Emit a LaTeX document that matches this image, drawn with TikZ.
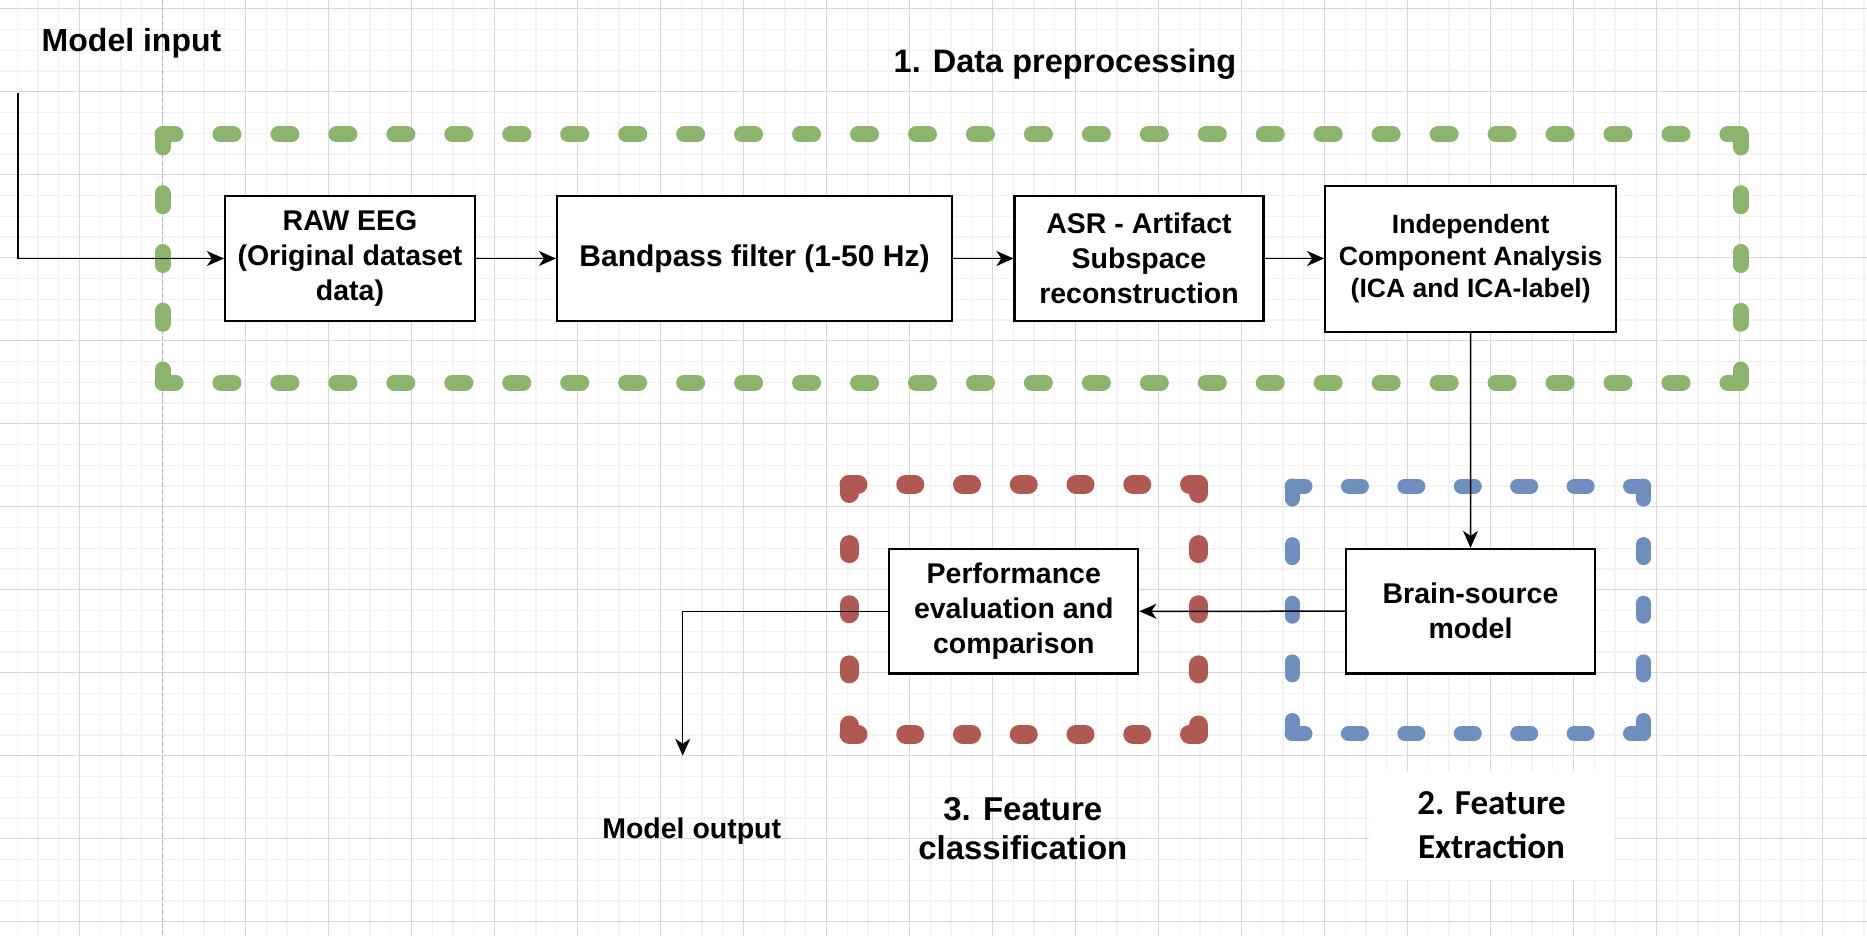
\documentclass[tikz,border=0pt]{standalone}
\usepackage{fontspec}
\setmainfont{Liberation Sans}
\newfontfamily\calib{Carlito}
\usetikzlibrary{arrows.meta}
\definecolor{grn}{RGB}{141,180,109}
\definecolor{rd}{RGB}{176,89,83}
\definecolor{bl}{RGB}{110,142,190}
\definecolor{gmaj}{RGB}{216,216,216}
\definecolor{gmin}{RGB}{243,243,243}
\tikzset{
  box/.style={draw=black, line width=2.2pt, fill=white, inner sep=0pt, align=center, font=\bfseries\fontsize{28.5pt}{35pt}\selectfont},
  conn/.style={draw=black, line width=1.5pt, -{Stealth[length=17pt,width=15pt,inset=5pt]}},
  plainconn/.style={draw=black, line width=1.5pt},
  gside/.style={draw=grn, line width=16pt, line cap=round, dash pattern=on 13pt off #1},
  rside/.style={draw=rd, line width=19pt, line cap=round, dash pattern=on 9pt off #1},
  bside/.style={draw=bl, line width=15pt, line cap=round, dash pattern=on 13pt off #1},
  title/.style={font=\bfseries\fontsize{32.5pt}{39pt}\selectfont, inner sep=0pt, align=center}
}
\begin{document}
\begin{tikzpicture}[x=1pt,y=-1pt]
\useasboundingbox (0,0) rectangle (1867,936);
\fill[white] (0,0) rectangle (1867,936);
% grid
\foreach \i in {-4,...,86} {\draw[gmin, line width=1.3pt] ({79.5+20.75*\i},0) -- ({79.5+20.75*\i},936);}
\foreach \i in {-1,...,45} {\draw[gmin, line width=1.3pt] (0,{8.7+20.75*\i}) -- (1867,{8.7+20.75*\i});}
\foreach \i in {-1,...,22} {\draw[gmaj, line width=1.3pt] ({79.5+83*\i},0) -- ({79.5+83*\i},936);}
\foreach \i in {0,...,11} {\draw[gmaj, line width=1.3pt] (0,{8.7+83*\i}) -- (1867,{8.7+83*\i});}
\draw[black!30, line width=1.3pt, dash pattern=on 4pt off 3pt] (162.5,0) -- (162.5,936);

% green container (1. Data preprocessing)
\draw[gside=44.96pt] (162.5,134.5) -- (1740.5,134.5);
\draw[gside=44.96pt] (162.5,382.5) -- (1740.5,382.5);
\draw[gside=45.75pt] (162.5,134.5) -- (162.5,382.5);
\draw[gside=45.75pt] (1740.5,134.5) -- (1740.5,382.5);

% red container (3. Feature classification)
\draw[rside=47.75pt] (849,484.5) -- (1198.5,484.5);
\draw[rside=47.75pt] (849,734) -- (1198.5,734);
\draw[rside=51.125pt] (849,484.5) -- (849,734);
\draw[rside=51.125pt] (1198.5,484.5) -- (1198.5,734);

% blue container (2. Feature Extraction)
\draw[bside=43.42pt] (1292,486) -- (1643.5,486);
\draw[bside=43.42pt] (1292,733.5) -- (1643.5,733.5);
\draw[bside=45.625pt] (1292,486) -- (1292,733.5);
\draw[bside=45.625pt] (1643.5,486) -- (1643.5,733.5);

% boxes
\node[box, minimum width=250pt, minimum height=125pt] (raw) at (350,258.5) {RAW EEG\\(Original dataset\\data)};
\node[box, minimum width=395pt, minimum height=125pt, font=\bfseries\fontsize{30pt}{36pt}\selectfont] (band) at (754.5,258.5) {Bandpass filter (1-50 Hz)};
\node[box, minimum width=249pt, minimum height=125pt] (asr) at (1139,258.5) {ASR - Artifact\\Subspace\\reconstruction};
\node[box, minimum width=291pt, minimum height=146pt, font=\bfseries\fontsize{26.5pt}{32pt}\selectfont] (ica) at (1470.7,258.7) {Independent\\Component Analysis\\(ICA and ICA-label)};
\node[box, minimum width=249pt, minimum height=124.5pt] (perf) at (1013.8,611.3) {Performance\\evaluation and\\comparison};
\node[box, minimum width=249pt, minimum height=124.5pt] (brain) at (1470.5,611.2) {Brain-source\\model};

% labels
\node[title, anchor=base, font=\bfseries\fontsize{32pt}{38pt}\selectfont] (inlbl) at (131.5,51.7) {Model input};
\node[title, anchor=base] (t1) at (1065,72.7) {1. Data preprocessing};
\node[title, anchor=base, font=\bfseries\fontsize{28.5pt}{34pt}\selectfont] (outlbl) at (691.7,838) {Model output};
\node[title, font=\bfseries\fontsize{33pt}{39pt}\selectfont] (t3) at (1022.8,828.4) {3. Feature\\classification};
\node[fill=white, inner sep=0pt, minimum width=245pt, minimum height=109pt, align=center, font=\calib\bfseries\fontsize{35pt}{44pt}\selectfont] (t2) at (1491.5,825) {2. Feature\\Extraction};

% connectors
\coordinate (instart) at (17.9,92.7);
\coordinate (outend) at (682.7,755.7);
\draw[conn] (instart) |- (raw.west);
\draw[conn] (raw) -- (band);
\draw[conn] (band) -- (asr);
\draw[conn] (asr.east) -- (asr.east -| ica.west);
\draw[conn] (ica) -- (brain);
\draw[conn] (brain) -- (perf);
\draw[conn] (perf.west) -| (outend);
\end{tikzpicture}
\end{document}
